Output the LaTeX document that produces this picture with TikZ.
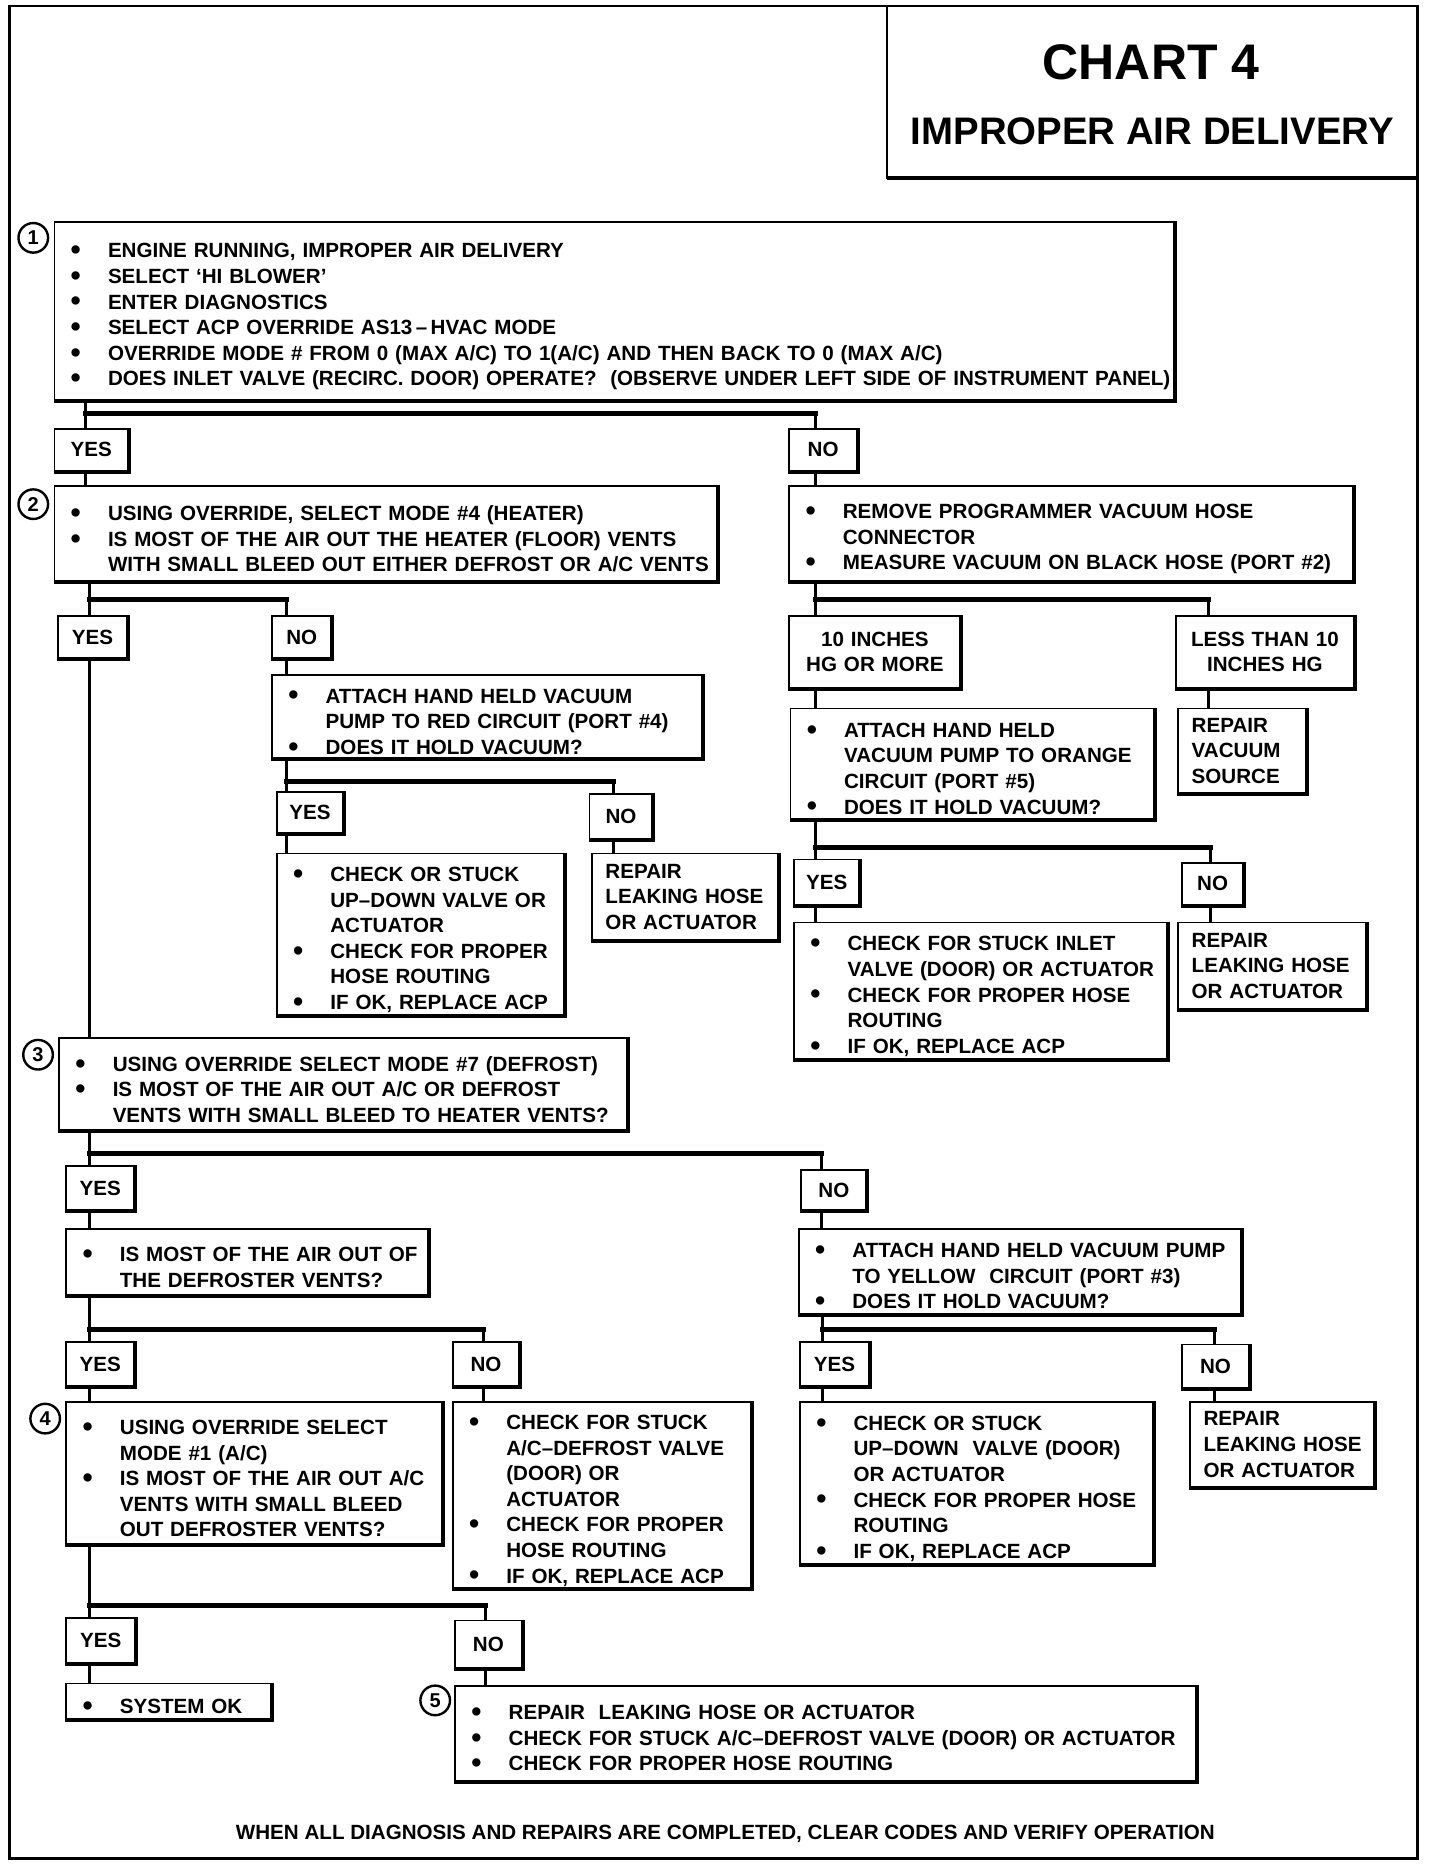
\documentclass[tikz,border=0pt]{standalone}
\usepackage{fontspec}
\setmainfont{Liberation Sans}
\newcommand\pxu{0.5946pt}
\newlength\bli \setlength\bli{26.8pt}
\newcommand\bul{\raisebox{-0.9pt}{\fontsize{14.5}{0}\selectfont\textbullet}}
\newcommand\itm{\par\noindent\hangindent=\bli\hangafter=1\leftskip=0pt\rightskip=-14pt plus 1fil\makebox[\bli][l]{\hspace{10.7pt}\makebox[0pt][c]{\bul}}}
\newcommand\pl{\noindent\leftskip=6.8pt\rightskip=-14pt plus 1fil\relax}
\newcommand\nl{\newline}
\tikzset{
  every node/.style={font=\bfseries\fontsize{10.3}{12.8}\selectfont},
  box/.style={draw, line width=0.9pt, anchor=north west, inner xsep=0pt, inner ysep=0pt, fill=white},
  shadowline/.style={line width=2pt},
  conn/.style={line width=1.5pt},
  bar/.style={line width=2.5pt, line cap=rect},
  framest/.style={line width=1.1pt},
  num/.style={circle, draw, line width=1.2pt, minimum size=14.8pt, inner sep=0pt, fill=white, font=\bfseries\fontsize{10}{10}\selectfont},
}
\newcommand\bx[7][]{%
  \pgfmathsetlengthmacro\bxw{#5*\pxu}%
  \pgfmathsetlengthmacro\bxh{#6*\pxu}%
  \node[box,minimum width=\bxw,minimum height=\bxh,text width=\bxw,#1] (#2) at (#3,#4) {#7\par};}
\begin{document}
\begin{tikzpicture}[x=0.5946pt,y=-0.5946pt]
\useasboundingbox (0,0) rectangle (1211,1576);
% frame and title
\draw[framest] (8,5) rectangle (1192,1563);
\draw[framest] (746,5) rectangle (1192,150);
\draw[shadowline] (746,150) -- (1192,150);
\node[font=\bfseries\fontsize{25}{28}\selectfont] (t1) at (968,52) {CHART 4};
\node[font=\bfseries\fontsize{19.2}{22}\selectfont] (t2) at (969,110) {IMPROPER AIR DELIVERY};

% boxes
\bx{b1}{45}{186}{942}{150}{\itm ENGINE RUNNING, IMPROPER AIR DELIVERY
\itm SELECT ‘HI BLOWER’
\itm ENTER DIAGNOSTICS
\itm SELECT ACP OVERRIDE AS13\,–\,HVAC MODE
\itm OVERRIDE MODE \# FROM 0 (MAX A/C) TO 1(A/C) AND THEN BACK TO 0 (MAX A/C)
\itm DOES INLET VALVE (RECIRC. DOOR) OPERATE?\ \ (OBSERVE UNDER LEFT SIDE OF INSTRUMENT PANEL)}
\bx[align=center]{yes1}{45}{360}{62}{35}{YES}
\bx[align=center]{no1}{663}{360}{57}{35}{NO}
\bx{b2}{45}{408}{557}{80}{\itm USING OVERRIDE, SELECT MODE \#4 (HEATER)
\itm IS MOST OF THE AIR OUT THE HEATER (FLOOR) VENTS\nl WITH SMALL BLEED OUT EITHER DEFROST OR A/C VENTS}
\bx{b2n}{663}{408}{474}{80}{\itm REMOVE PROGRAMMER VACUUM HOSE\nl CONNECTOR
\itm MEASURE VACUUM ON BLACK HOSE (PORT \#2)}
\bx[align=center]{y2}{48}{517}{58}{36}{YES}
\bx[align=center]{n2}{228}{517}{50}{36}{NO}
\bx[align=center]{ten}{663}{517}{144}{61}{10 INCHES\\HG OR MORE}
\bx[align=center]{less}{988}{517}{150}{61}{LESS THAN 10\\INCHES HG}
\bx{red}{228}{567}{362}{70}{\itm ATTACH HAND HELD VACUUM\nl PUMP TO RED CIRCUIT (PORT \#4)
\itm DOES IT HOLD VACUUM?}
\bx{orange}{664}{595}{306}{93}{\itm ATTACH HAND HELD\nl VACUUM PUMP TO ORANGE\nl CIRCUIT (PORT \#5)
\itm DOES IT HOLD VACUUM?}
\bx{rvs}{990}{595}{108}{71}{\pl REPAIR\nl VACUUM\nl SOURCE}
\bx[align=center]{y3}{232}{665}{56}{35}{YES}
\bx[align=center]{n3}{495}{667}{53}{38}{NO}
\bx{chk1}{232}{717}{242}{136}{\itm CHECK OR STUCK\nl UP–DOWN VALVE OR\nl ACTUATOR
\itm CHECK FOR PROPER\nl HOSE ROUTING
\itm IF OK, REPLACE ACP}
\bx{rep1}{497}{717}{157}{73}{\pl REPAIR\nl LEAKING HOSE\nl OR ACTUATOR}
\bx[align=center]{y4}{667}{722}{55}{38}{YES}
\bx[align=center]{n4}{993}{725}{52}{35}{NO}
\bx{chk2}{667}{775}{314}{115}{\itm CHECK FOR STUCK INLET\nl VALVE (DOOR) OR ACTUATOR
\itm CHECK FOR PROPER HOSE\nl ROUTING
\itm IF OK, REPLACE ACP}
\bx{rep2}{990}{775}{158}{73}{\pl REPAIR\nl LEAKING HOSE\nl OR ACTUATOR}
\bx{b3}{49}{872}{478}{78}{\itm USING OVERRIDE SELECT MODE \#7 (DEFROST)
\itm IS MOST OF THE AIR OUT A/C OR DEFROST\nl VENTS WITH SMALL BLEED TO HEATER VENTS?}
\bx[align=center]{y5}{55}{980}{57}{37}{YES}
\bx[align=center]{n5}{673}{983}{55}{34}{NO}
\bx{def}{55}{1033}{304}{55}{\itm IS MOST OF THE AIR OUT OF\nl THE DEFROSTER VENTS?}
\bx{yel}{671}{1033}{372}{71}{\itm ATTACH HAND HELD VACUUM PUMP\nl TO YELLOW\ \ CIRCUIT (PORT \#3)
\itm DOES IT HOLD VACUUM?}
\bx[align=center]{y6}{55}{1128}{57}{37}{YES}
\bx[align=center]{n6}{380}{1128}{56}{37}{NO}
\bx[align=center]{y7}{672}{1128}{58}{37}{YES}
\bx[align=center]{n7}{993}{1130}{57}{37}{NO}
\bx{b4}{55}{1178}{316}{120}{\itm USING OVERRIDE SELECT\nl MODE \#1 (A/C)
\itm IS MOST OF THE AIR OUT A/C\nl VENTS WITH SMALL BLEED\nl OUT DEFROSTER VENTS?}
\bx{chk3}{380}{1178}{251}{157}{\itm CHECK FOR STUCK\nl A/C–DEFROST VALVE\nl (DOOR) OR\nl ACTUATOR
\itm CHECK FOR PROPER\nl HOSE ROUTING
\itm IF OK, REPLACE ACP}
\bx{chk4}{672}{1178}{297}{137}{\itm CHECK OR STUCK\nl UP–DOWN\ \ VALVE (DOOR)\nl OR ACTUATOR
\itm CHECK FOR PROPER HOSE\nl ROUTING
\itm IF OK, REPLACE ACP}
\bx{rep3}{1000}{1178}{155}{72}{\pl REPAIR\nl LEAKING HOSE\nl OR ACTUATOR}
\bx[align=center]{y8}{55}{1360}{58}{38}{YES}
\bx[align=center]{n8}{382}{1362}{56}{40}{NO}
\bx{ok}{55}{1415}{172}{30}{\itm SYSTEM OK}
\bx{b5}{382}{1417}{623}{80}{\itm REPAIR\ \ LEAKING HOSE OR ACTUATOR
\itm CHECK FOR STUCK A/C–DEFROST VALVE (DOOR) OR ACTUATOR
\itm CHECK FOR PROPER HOSE ROUTING}

\foreach \n in {b1,yes1,no1,b2,b2n,y2,n2,ten,less,red,orange,rvs,y3,n3,chk1,rep1,y4,n4,chk2,rep2,b3,y5,n5,def,yel,y6,n6,y7,n7,b4,chk3,chk4,rep3,y8,n8,ok,b5}
  \draw[shadowline] (\n.north east) -- (\n.south east) -- (\n.south west);

% step numbers
\node[num] (c1) at (28,200) {1};
\node[num] (c2) at (28,424) {2};
\node[num] (c3) at (32,887) {3};
\node[num] (c4) at (38,1193) {4};
\node[num] (c5) at (366,1430) {5};

% connectors
\coordinate (jA) at (72,348); \coordinate (jB) at (686,348);
\draw[conn] (b1.south -| jA) -- (yes1.north -| jA);
\draw[bar] (jA) -- (jB);
\draw[conn] (jB) -- (no1.north -| jB);
\draw[conn] (yes1.south -| jA) -- (b2.north -| jA);
\draw[conn] (no1.south -| jB) -- (b2n.north -| jB);

\coordinate (jC) at (75,504); \coordinate (jD) at (241,504);
\draw[conn] (b2.south -| jC) -- (y2.north -| jC);
\draw[bar] (jC) -- (jD);
\draw[conn] (jD) -- (n2.north -| jD);
\draw[conn] (y2.south -| jC) -- (b3.north -| jC);
\draw[conn] (n2.south -| jD) -- (red.north -| jD);

\coordinate (jE) at (241,657); \coordinate (jF) at (516,657);
\draw[conn] (red.south -| jE) -- (y3.north -| jE);
\draw[bar] (jE) -- (jF);
\draw[conn] (jF) -- (n3.north -| jF);
\draw[conn] (y3.south -| jE) -- (chk1.north -| jE);
\draw[conn] (n3.south -| jF) -- (rep1.north -| jF);

\coordinate (jG) at (686,504); \coordinate (jH) at (1016,504);
\draw[conn] (b2n.south -| jG) -- (ten.north -| jG);
\draw[bar] (jG) -- (jH);
\draw[conn] (jH) -- (less.north -| jH);
\draw[conn] (ten.south -| jG) -- (orange.north -| jG);
\draw[conn] (less.south -| jH) -- (rvs.north -| jH);

\coordinate (jI) at (686,713); \coordinate (jJ) at (1018,713);
\draw[conn] (orange.south -| jI) -- (y4.north -| jI);
\draw[bar] (jI) -- (jJ);
\draw[conn] (jJ) -- (n4.north -| jJ);
\draw[conn] (y4.south -| jI) -- (chk2.north -| jI);
\draw[conn] (n4.south -| jJ) -- (rep2.north -| jJ);

\coordinate (jK) at (75,970); \coordinate (jL) at (691,970);
\draw[conn] (b3.south -| jK) -- (y5.north -| jK);
\draw[bar] (jK) -- (jL);
\draw[conn] (jL) -- (n5.north -| jL);
\draw[conn] (y5.south -| jK) -- (def.north -| jK);
\draw[conn] (n5.south -| jL) -- (yel.north -| jL);

\coordinate (jM) at (75,1118); \coordinate (jN) at (407,1118);
\draw[conn] (def.south -| jM) -- (y6.north -| jM);
\draw[bar] (jM) -- (jN);
\draw[conn] (jN) -- (n6.north -| jN);
\draw[conn] (y6.south -| jM) -- (b4.north -| jM);
\draw[conn] (n6.south -| jN) -- (chk3.north -| jN);

\coordinate (jO) at (692,1118); \coordinate (jP) at (1021,1118);
\draw[conn] (yel.south -| jO) -- (y7.north -| jO);
\draw[bar] (jO) -- (jP);
\draw[conn] (jP) -- (n7.north -| jP);
\draw[conn] (y7.south -| jO) -- (chk4.north -| jO);
\draw[conn] (n7.south -| jP) -- (rep3.north -| jP);

\coordinate (jQ) at (75,1350); \coordinate (jR) at (408,1350);
\draw[conn] (b4.south -| jQ) -- (y8.north -| jQ);
\draw[bar] (jQ) -- (jR);
\draw[conn] (jR) -- (n8.north -| jR);
\draw[conn] (y8.south -| jQ) -- (ok.north -| jQ);
\draw[conn] (n8.south -| jR) -- (b5.north -| jR);

% footer
\node (foot) at (610,1542) {WHEN ALL DIAGNOSIS AND REPAIRS ARE COMPLETED, CLEAR CODES AND VERIFY OPERATION};
\end{tikzpicture}
\end{document}
